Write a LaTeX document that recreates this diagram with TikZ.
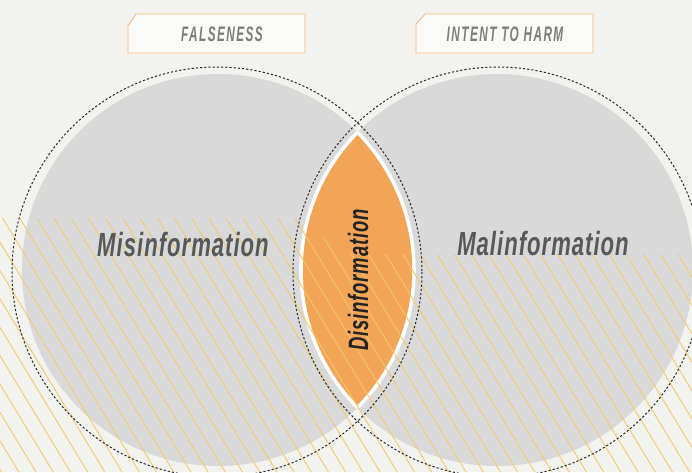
\documentclass[tikz,border=0pt]{standalone}
\usepackage{fontspec}
\newfontfamily\condfont[FakeStretch=0.66,LetterSpace=3]{Liberation Sans}
\newfontfamily\tagfont[FakeStretch=0.56,LetterSpace=7]{Liberation Sans}
\definecolor{cBg}   {HTML}{F2F2EE}
\definecolor{cDisc} {HTML}{D8D9D8}
\definecolor{cLens} {HTML}{F2A457}
\definecolor{cHatch}{HTML}{F2C86C}
\definecolor{cRing} {HTML}{2A2A2A}
\definecolor{cTagLn}{HTML}{F4BA80}
\definecolor{cTagBg}{HTML}{FAFAF7}
\definecolor{cTagTx}{HTML}{7D7D7D}
\definecolor{cBig}  {HTML}{58585A}
\definecolor{cDis}  {HTML}{222222}
\tikzset{
  disc/.style  ={fill=cDisc},
  lens/.style  ={fill=cLens},
  seam/.style  ={draw=white,line width=3.5pt},
  hatch/.style ={draw=cHatch,line width=1pt,opacity=0.9},
  ring/.style  ={draw=cRing,line width=1pt,dash pattern=on 2.2pt off 2pt},
  tagbox/.style={draw=cTagLn,fill=cTagBg,line width=0.9pt},
  tagtxt/.style={font=\tagfont\bfseries\itshape\fontsize{21}{21}\selectfont,text=cTagTx,
                 anchor=base,inner sep=0pt},
  bigtxt/.style={font=\condfont\bfseries\itshape\fontsize{33.5}{34}\selectfont,text=cBig,
                 anchor=base,inner sep=0pt},
}

\begin{document}
\begin{tikzpicture}[x=1pt,y=-1pt]
\fill[cBg] (0,0) rectangle (692,472);
\useasboundingbox (0,0) rectangle (692,472);
\def\rdisc{196}
\def\rring{205}

% ---------------- the two discs ------------------------------------------
\coordinate (mis) at (218,270);
\coordinate (mal) at (497,270);
\fill[disc] (mis) circle[radius=\rdisc];
\fill[disc] (mal) circle[radius=\rdisc];
\begin{scope}
  \clip (mis) circle[radius=\rdisc];
  \fill[lens] (mal) circle[radius=\rdisc];
\end{scope}
\begin{scope}
  \clip (mal) circle[radius=\rdisc];
  \draw[seam] (mis) circle[radius=\rdisc];
\end{scope}
\begin{scope}
  \clip (mis) circle[radius=\rdisc];
  \draw[seam] (mal) circle[radius=\rdisc];
\end{scope}

% ---------------- diagonal hatching, lower half ---------------------------
\begin{scope}
  \clip (0,218) -- (300,218) -- (345,254) -- (692,254) -- (692,472) -- (0,472) -- cycle;
  \foreach \k in {-30,...,30}
    {\draw[hatch] ({243.3+17.2*\k-20},185) -- ++(200,330);}
\end{scope}

% ---------------- dashed outlines ----------------------------------------
\coordinate (misring) at (217,272);
\coordinate (malring) at (498,272);
\draw[ring] (misring) circle[radius=\rring];
\draw[ring] (malring) circle[radius=\rring];

% ---------------- labels -------------------------------------------------
\node[bigtxt] (misinfo) at (183,256) {Misinformation};
\node[bigtxt] (malinfo) at (543,255) {Malinformation};
\node[font=\condfont\bfseries\itshape\fontsize{28}{28}\selectfont,text=cDis,rotate=90,
      inner sep=0pt] (disinfo) at (358,280) {Disinformation};

\draw[tagbox] (128,26) -- (136,14) -- (305,14) -- (305,53) -- (128,53) -- cycle;
\node[tagtxt] (falseness) at (222,41) {FALSENESS};
\draw[tagbox] (416,24) -- (425,14) -- (593,14) -- (593,53) -- (416,53) -- cycle;
\node[tagtxt] (intent) at (505,41) {INTENT TO HARM};
\end{tikzpicture}
\end{document}
